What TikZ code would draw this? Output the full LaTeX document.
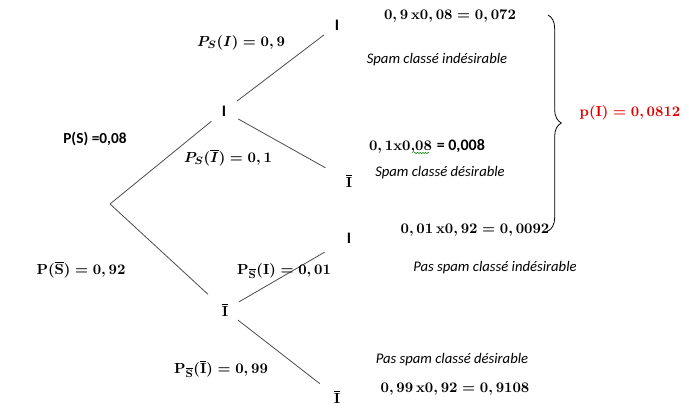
\documentclass[tikz,border=0pt]{standalone}
\usepackage{amsmath}
\usepackage{fontspec}
\setsansfont{Carlito}
\usetikzlibrary{decorations.pathreplacing,decorations.pathmorphing}

\begin{document}
\begin{tikzpicture}
  [x=0.75pt,y=-0.75pt,
   n/.style={circle,minimum size=24pt,inner sep=0pt,font=\sffamily\bfseries\fontsize{12}{14}\selectfont},
   nb/.style={circle,minimum size=24pt,inner sep=0pt,font=\boldmath\fontsize{11}{13}\selectfont},
   p/.style={font=\boldmath\fontsize{11}{13}\selectfont},
   ps/.style={font=\sffamily\bfseries\fontsize{11.5}{13}\selectfont},
   t/.style={font=\sffamily\itshape\fontsize{11}{13}\selectfont},
   b/.style={line width=0.6pt,black!70}]

  \useasboundingbox (0,0) rectangle (689,416);

  % tree
  \coordinate (r) at (110,204);
  \node[n] (n1) at (224,111) {I};
  \node[nb] (n2) at (225,310) {$\overline{\mathbf{I}}$};
  \node[n] (n11) at (337,25) {I};
  \node[nb] (n12) at (349,181) {$\overline{\mathbf{I}}$};
  \node[n] (n21) at (349,238) {I};
  \node[nb] (n22) at (337,397) {$\overline{\mathbf{I}}$};

  \draw[b] (r) -- (n1);
  \draw[b,shorten >=5pt] (r) -- (n2);
  \draw[b] (n1) -- (n11);
  \draw[b,shorten >=8pt] (n1) -- (n12);
  \draw[b,shorten >=9pt] (n2) -- (n21);
  \draw[b,shorten >=4pt] (n2) -- (n22);

  % branch labels
  \node[ps] (lS) at (95,139) {P(S) =0,08};
  \node[p] (lSb) at (81,270) {$\mathbf{P(\overline{S}) = 0,92}$};
  \node[p] (l11) at (241,43) {$P_S(I) = 0,9$};
  \node[p] (l12) at (228,158) {$P_S(\overline{I}) = 0,1$};
  \node[p] (l21) at (284,271) {$\mathbf{P_{\overline{S}}(I) = 0,01}$};
  \node[p] (l22) at (221,369) {$\mathbf{P_{\overline{S}}(\overline{I}) = 0,99}$};

  % leaves
  \node[p] (c1) at (450,16) {$\mathbf{0,9\,x0,08 = 0,072}$};
  \node[t] (d1) at (437,60) {Spam classé indésirable};
  \node[p] (c2) at (427,146) {$\mathbf{0,1x0{,}08}$ \textsf{\bfseries\fontsize{12}{14}\selectfont= 0,008}};
  \draw[green!50!black,decorate,decoration={snake,amplitude=0.5pt,segment length=2pt}]
    (414,153) -- (429,153);
  \node[t] (d2) at (440,173) {Spam classé désirable};
  \node[p] (c3) at (475,230) {$\mathbf{0,01\,x0,92 = 0,0092}$};
  \node[t] (d3) at (495,268) {Pas spam classé indésirable};
  \node[t] (d4) at (452,360) {Pas spam classé désirable};
  \node[p] (c4) at (455,389) {$\mathbf{0,99\,x0,92 = 0,9108}$};

  % sum
  \coordinate (bt) at (548,15);
  \coordinate (bb) at (548,231);
  \draw[b,black,decorate,decoration={brace,amplitude=10pt}] (bt) -- (bb);
  \node[p,text=red!90!black] (pI) at (630,113) {$\mathbf{p(I) = 0,0812}$};

\end{tikzpicture}
\end{document}
